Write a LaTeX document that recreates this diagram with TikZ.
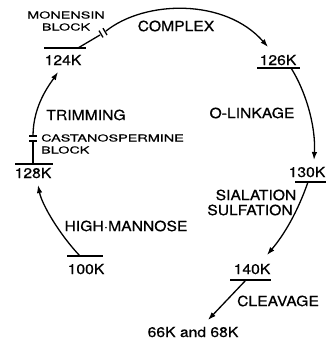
\documentclass[tikz,border=0pt]{standalone}
\usepackage{fontspec}
\setmainfont{TeX Gyre Heros}
\newfontfamily\bigext[FakeStretch=1.12,FakeBold=0.6]{TeX Gyre Heros}
\newfontfamily\smallext[FakeStretch=1.5,FakeBold=0.4]{TeX Gyre Heros}
\usetikzlibrary{arrows.meta}
\begin{document}
\begin{tikzpicture}[x=1pt,y=-1pt,
  big/.style={font=\bigext\fontsize{14}{16}\selectfont, inner sep=0pt},
  small/.style={font=\smallext\fontsize{9.6}{12}\selectfont, inner sep=0pt},
  flow/.style={line width=1.3pt, -{Latex[length=8pt,width=5.5pt]}},
  bar/.style={line width=1.1pt},
  blk/.style={line width=1.3pt}]
\useasboundingbox (0,0) rectangle (326,341);
% weight nodes
\node[big] (t124) at (63,60) {124K};
\node[big] (t126) at (278,60) {126K};
\node[big, anchor=east] (t130) at (325.5,172) {130K};
\node[big] (t140) at (252,269) {140K};
\node[big] (t100) at (86,269) {100K};
\node[big] (t128) at (33,173) {128K};
\node[big] (t66) at (193,332) {66K and 68K};
% process labels
\node[big] (lcomplex) at (176,26) {COMPLEX};
\node[big] (lolink) at (252,113) {O-LINKAGE};
\node[big] (lsial) at (256,195) {SIALATION};
\node[big] (lsulf) at (250,210) {SULFATION};
\node[big] (lcleav) at (278,301) {CLEAVAGE};
\node[big] (lhigh) at (126,226) {HIGH·MANNOSE};
\node[big] (ltrim) at (86,115) {TRIMMING};
\node[small, align=center] (lmon) at (66,21) {MONENSIN\\BLOCK};
\node[small, align=left, anchor=west] (lcast) at (41,144) {CASTANOSPERMINE\\BLOCK};
% bars
\coordinate (b124a) at (44,48);  \coordinate (b124b) at (86,48);
\coordinate (b126a) at (257,68); \coordinate (b126b) at (300,68);
\coordinate (b130a) at (295,182); \coordinate (b130b) at (330,182);
\coordinate (b140a) at (230,280); \coordinate (b140b) at (271,280);
\coordinate (b100a) at (67,256); \coordinate (b100b) at (103,256);
\coordinate (b128a) at (15,164); \coordinate (b128b) at (53,164);
\foreach \b in {124,126,130,140,100,128}{\draw[bar] (b\b a) -- (b\b b);}
% connector ends
\coordinate (s100) at (80,256);  \coordinate (e128) at (38,185);
\coordinate (s128) at (33,164);  \coordinate (c128) at (33,141);
\coordinate (c128b) at (33,136); \coordinate (e124) at (58,72);
\coordinate (s124) at (78,48);   \coordinate (m1) at (100,35);
\coordinate (m2) at (106,31);    \coordinate (e126) at (268,47);
\coordinate (s126) at (291,68);  \coordinate (e130) at (314,160);
\coordinate (s130) at (308,182); \coordinate (e140) at (267,255);
\coordinate (s140) at (246,280); \coordinate (e66) at (208,320);
% arcs
\draw[flow] (s100) .. controls (60,235) and (42,205) .. (e128);
\draw[blk] (s128) -- (c128);
\draw[blk] (29,141) -- (37,141);
\draw[blk] (29,136) -- (37,136);
\draw[flow] (c128b) .. controls (33,105) and (50,84) .. (e124);
\draw[blk] (s124) -- (m1);
\draw[blk] (99,30.6) -- (103,37.4);
\draw[blk] (103,28.2) -- (107,35);
\draw[flow] (m2) .. controls (145,0) and (225,-2) .. (e126);
\draw[flow] (s126) .. controls (305,90) and (316,125) .. (e130);
\draw[flow] (s130) .. controls (300,205) and (288,230) .. (e140);
\draw[flow] (s140) -- (e66);
\end{tikzpicture}
\end{document}
